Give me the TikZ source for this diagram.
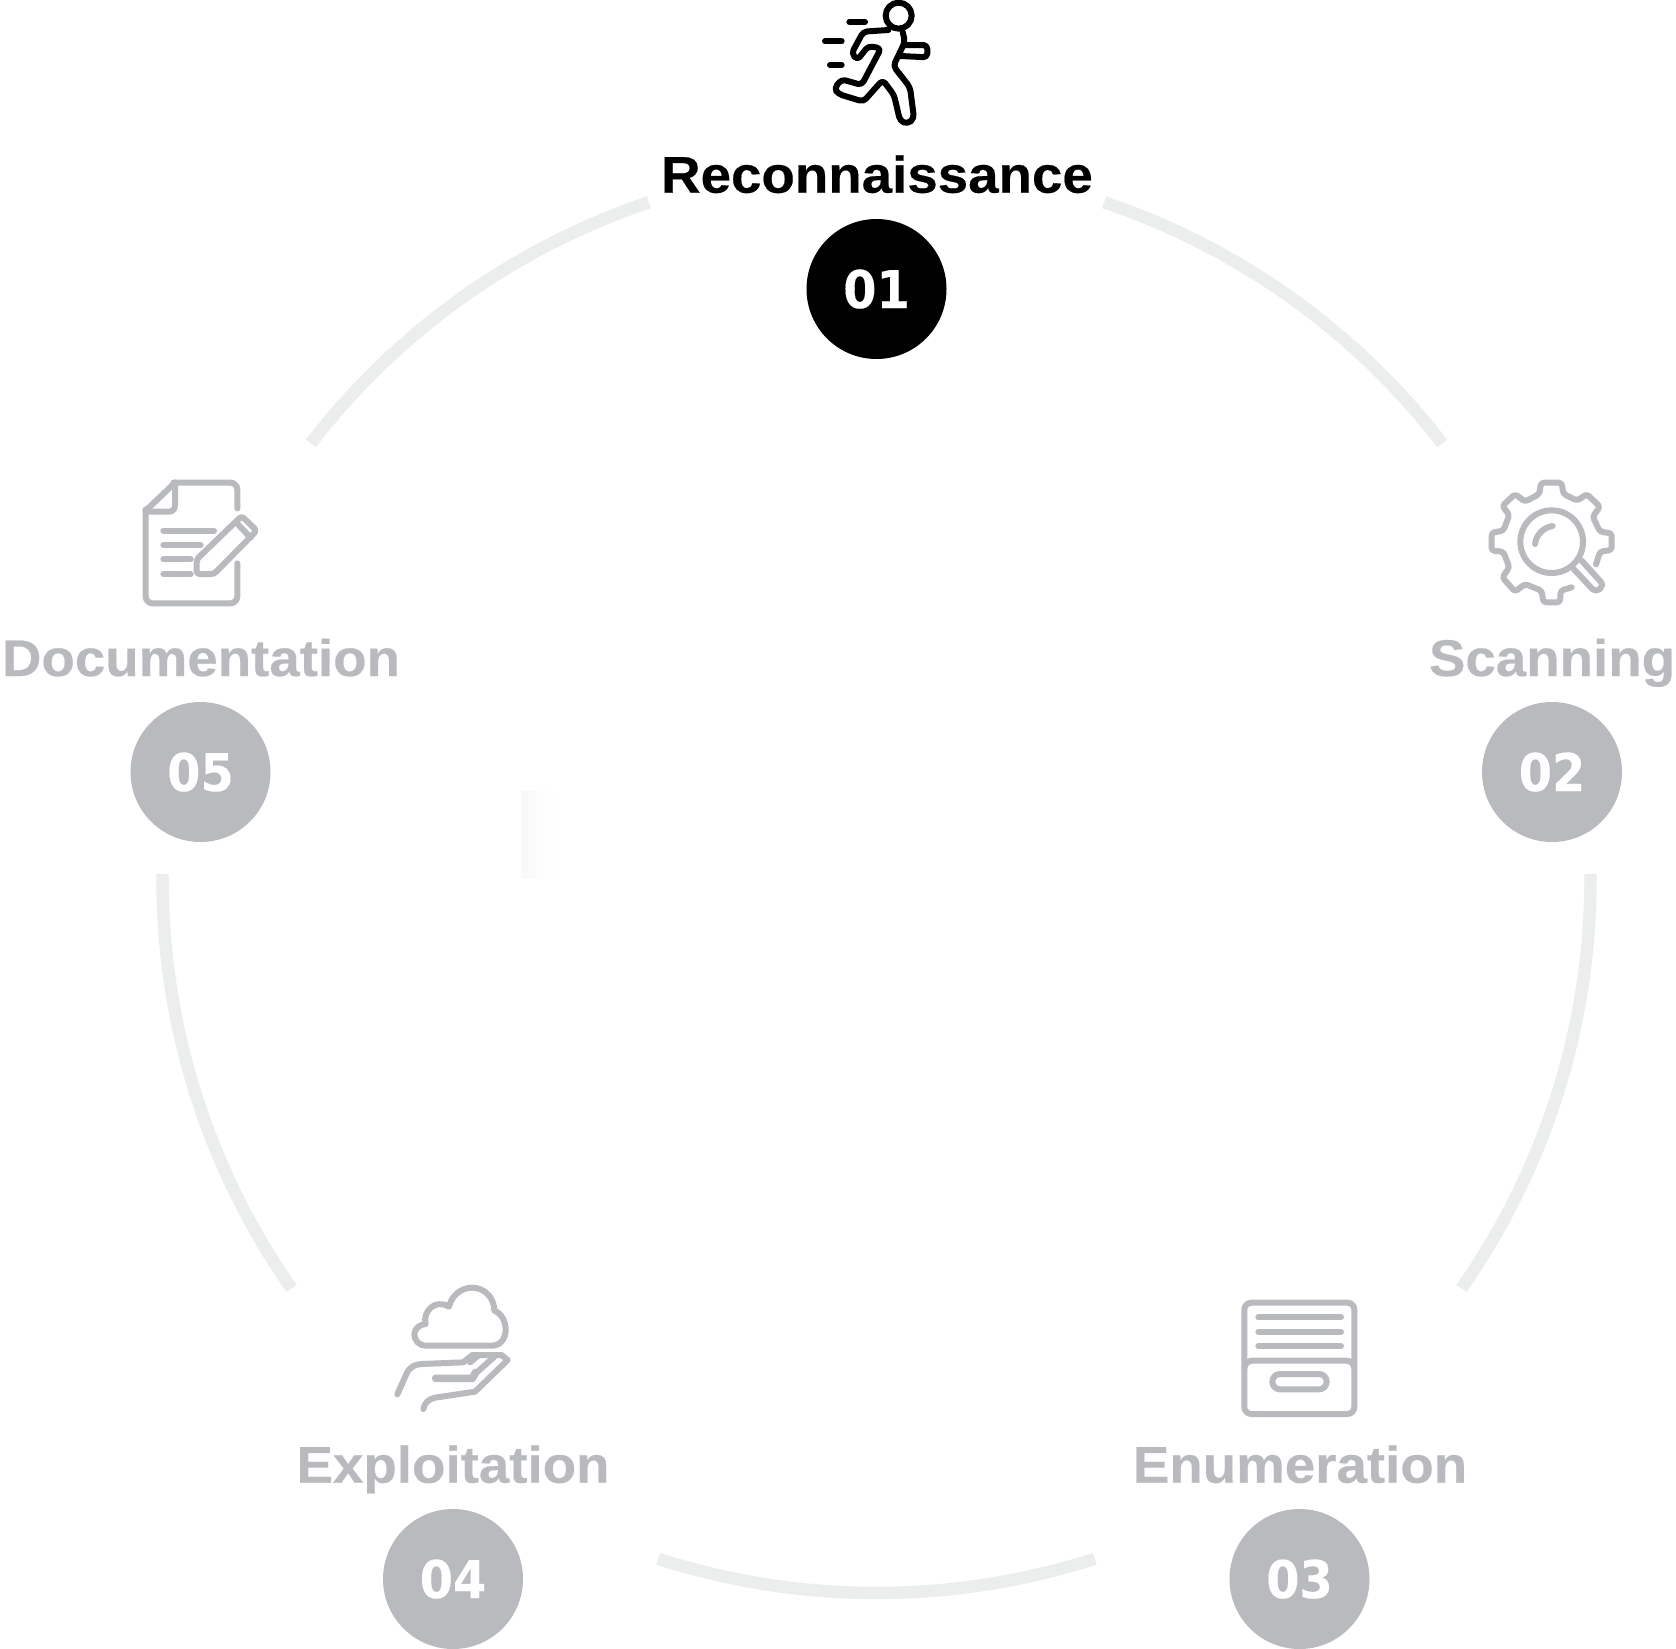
\documentclass[tikz,border=0pt]{standalone}
\usepackage{fontspec}
\setmainfont{Liberation Sans}
\newfontfamily\labelfont[FakeStretch=1.06,FakeBold=0.35]{Liberation Sans Bold}
\newfontfamily\numfont[FakeStretch=0.92,FakeBold=0.2]{DejaVu Sans Bold}
\definecolor{mute}{HTML}{B9BABD}
\definecolor{ringc}{HTML}{ECEDED}
\tikzset{
  ring/.style={draw=ringc,line width=6.2pt,line cap=butt},
  badge/.style={circle,minimum size=70pt,inner sep=0pt,draw=none,fill=#1},
  num/.style={text=white,anchor=base,inner sep=0pt,font=\numfont\fontsize{26}{26}\selectfont},
  lab/.style={text=#1,anchor=base,inner sep=0pt,font=\labelfont\fontsize{25.8}{26}\selectfont},
  icon/.style={x=0.16667pt,y=-0.16667pt,line width=3pt,line cap=round,line join=round,draw=#1},
}
\begin{document}
\begin{tikzpicture}[x=0.5pt,y=-0.5pt]
\useasboundingbox (0,0) rectangle (1676,1649);
\fill[white] (0,0) rectangle (1676,1649);
\shade[left color=black!2.5,right color=white] (521,791) rectangle (556,878);
% ring
\coordinate (c) at (876.5,879);
\draw[ring] (c) ++(-108.6:714) arc[start angle=-108.6,end angle=-142.4,radius=714];
\draw[ring] (c) ++(-71.4:714) arc[start angle=-71.4,end angle=-37.6,radius=714];
\draw[ring] (c) ++(-0.4:714) arc[start angle=-0.4,end angle=35,radius=714];
\draw[ring] (c) ++(72.2:714) arc[start angle=72.2,end angle=107.8,radius=714];
\draw[ring] (c) ++(180.4:714) arc[start angle=180.4,end angle=145,radius=714];
% badges
\node[badge=black] (b1) at (876.5,289) {};
\node[badge=mute] (b2) at (1552,772) {};
\node[badge=mute] (b3) at (1299.5,1579) {};
\node[badge=mute] (b4) at (453,1579) {};
\node[badge=mute] (b5) at (200.5,772) {};
\node[num] (n1) at (876.5,308) {01};
\node[num] (n2) at (1552,791) {02};
\node[num] (n3) at (1299.5,1598) {03};
\node[num] (n4) at (453,1598) {04};
\node[num] (n5) at (200.5,791) {05};
\node[lab=black] (l1) at (877,192.7) {Reconnaissance};
\node[lab=mute] (l2) at (1552,676) {Scanning};
\node[lab=mute] (l3) at (1300,1482.7) {Enumeration};
\node[lab=mute] (l4) at (453,1482.7) {Exploitation};
\node[lab=mute] (l5) at (201,676) {Documentation};
% runner
\begin{scope}[shift={(400pt,0pt)},icon=black]
\draw (296,47) circle[radius=39];
\draw (148,66) -- (195,66) (75,124) -- (125,124) (90,195) -- (125,195);
\draw[rounded corners=2pt] (265,90) -- (190,95) -- (155,160) -- (172,180) -- (205,138) -- (243,145) -- (185,255) -- (125,238) -- (103,265) -- (115,282) -- (190,305) -- (248,240) -- (282,285) -- (300,362) -- (322,372) -- (342,355) -- (330,262) -- (280,198) -- (315,125) -- (308,96);
\draw[rounded corners=2pt] (312,135) -- (382,135) -- (382,172) -- (302,168);
\end{scope}
% gear
\begin{scope}[shift={(735pt,-235pt)},icon=mute]
\draw[rounded corners=1.5pt] (378,283) -- (390,245) -- (425,240) -- (425,190) -- (390,185) -- (368,140) -- (390,110) -- (350,72) -- (322,92) -- (280,72) -- (275,38) -- (213,38) -- (208,72) -- (165,95) -- (135,72) -- (97,108) -- (118,135) -- (100,182) -- (65,188) -- (65,242) -- (100,245) -- (118,292) -- (97,322) -- (135,365) -- (165,342) -- (215,362) -- (220,397) -- (270,397) -- (272,362) -- (305,352);
\draw (245,215) circle[radius=94];
\draw (195,222) .. controls (198,195) and (220,172) .. (248,168);
\draw (312,298) -- (368,358) .. controls (380,370) and (405,352) .. (392,335) -- (335,272);
\end{scope}
% drawer
\begin{scope}[shift={(612.5pt,-645pt)},icon=mute]
\draw[rounded corners=3.5pt] (58,38) rectangle (388,372);
\draw (58,234) .. controls (60,220) and (70,212) .. (82,212) -- (364,212) .. controls (376,212) and (386,220) .. (388,234);
\draw (100,82) -- (348,82) (100,125) -- (348,125) (100,168) -- (348,168);
\draw[rounded corners=3.8pt] (142,252) rectangle (305,298);
\end{scope}
% cloud in hand
\begin{scope}[shift={(192.5pt,-637.5pt)},icon=mute]
\draw (125,212) .. controls (100,212) and (88,195) .. (88,178) .. controls (88,160) and (105,148) .. (122,147) .. controls (112,110) and (150,70) .. (192,95) .. controls (200,60) and (230,38) .. (262,38) .. controls (300,38) and (328,70) .. (328,107) .. controls (350,115) and (362,140) .. (362,165) .. controls (362,192) and (345,212) .. (320,212) -- cycle;
\draw (37,358) -- (65,295) .. controls (75,275) and (90,268) .. (110,267) -- (235,262) -- (262,240) -- (350,240) -- (368,255) -- (270,350) -- (150,368) .. controls (130,372) and (118,385) .. (115,402);
\draw[line width=3.8pt] (152,310) -- (262,310) -- (272,292);
\draw (255,262) -- (282,240) (278,290) -- (328,245);
\end{scope}
% document
\begin{scope}[shift={(65pt,-235pt)},icon=mute]
\draw (135,38) -- (47,122);
\draw[rounded corners=3.5pt] (322,115) -- (322,38) -- (130,38);
\draw[rounded corners=3.5pt] (47,118) -- (47,400) -- (322,400) -- (322,280);
\draw[rounded corners=3pt] (135,38) -- (135,125) -- (47,125);
\draw (100,182) -- (252,182) (100,225) -- (212,225) (100,268) -- (182,268) (100,312) -- (182,312);
\draw[rounded corners=1.5pt] (200,268) -- (335,138) -- (380,182) -- (252,312) -- (200,312) -- cycle;
\draw (317,156) -- (362,203);
\end{scope}
\end{tikzpicture}
\end{document}
